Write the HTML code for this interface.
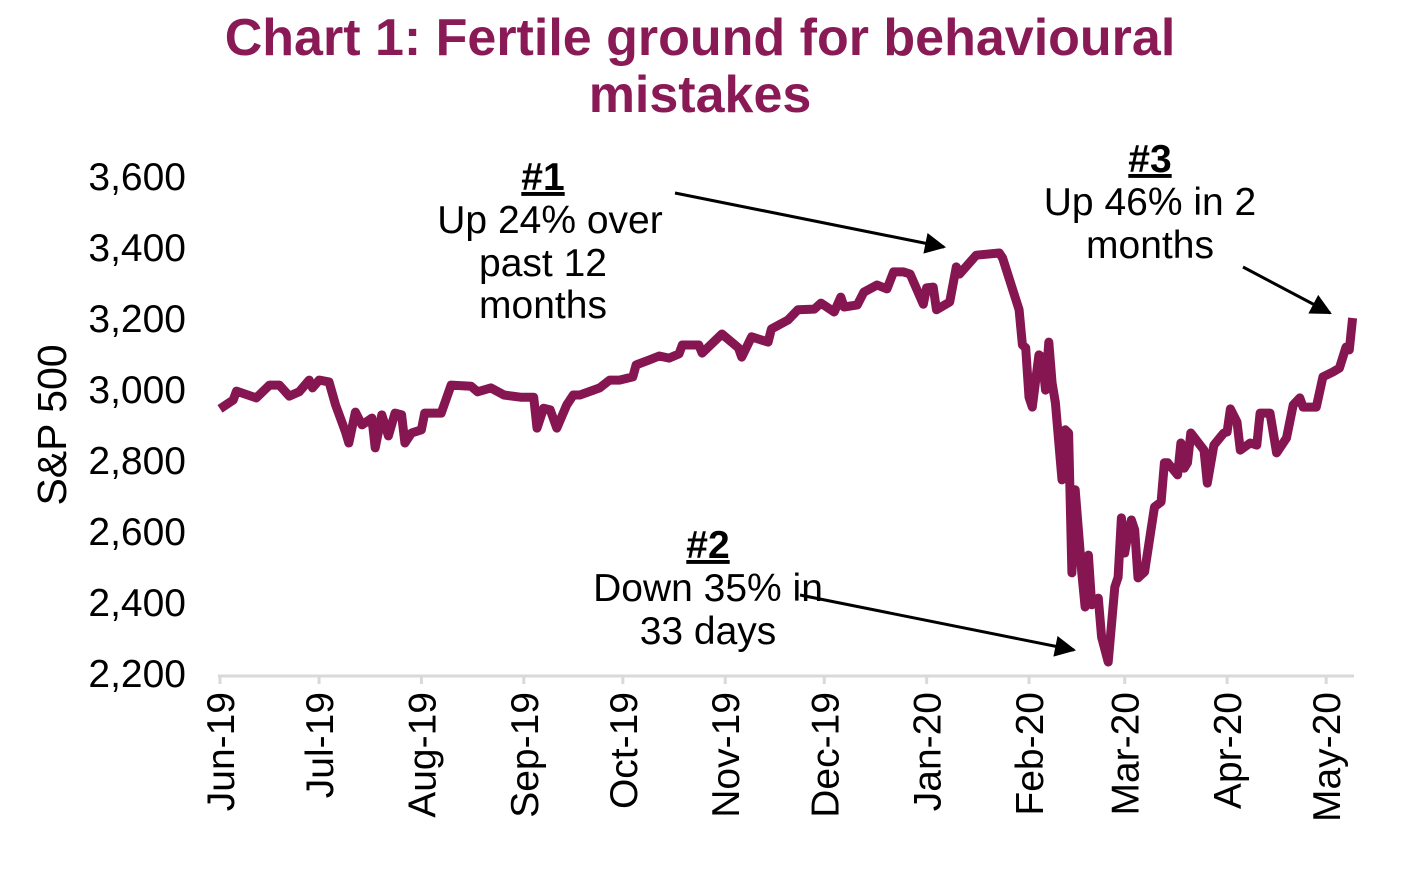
<!DOCTYPE html>
<html><head><meta charset="utf-8"><style>
body{margin:0;background:#fff;}
svg{display:block;font-family:"Liberation Sans",Arial,sans-serif;}
</style></head><body>
<svg id="chart" width="1414" height="880" viewBox="0 0 1414 880">
<defs><marker id="ah" viewBox="0 0 10 10" refX="9" refY="5" markerWidth="9" markerHeight="7" orient="auto" markerUnits="strokeWidth"><path d="M0,0 L10,5 L0,10 z" fill="#000"/></marker></defs>
<text x="700" y="55" text-anchor="middle" font-size="52" font-weight="bold" fill="#8a1a56">Chart 1: Fertile ground for behavioural</text>
<text x="700" y="112" text-anchor="middle" font-size="52" font-weight="bold" fill="#8a1a56">mistakes</text>
<text transform="translate(66,425) rotate(-90)" text-anchor="middle" font-size="41" fill="#000">S&amp;P 500</text>
<g id="yaxis"></g><g id="xaxis"></g>
<path id="line" fill="none" stroke="#861652" stroke-width="9" stroke-linejoin="round"/>
<g font-size="39" text-anchor="middle" fill="#000">
<text x="543" y="190" font-weight="bold" text-decoration="underline">#1</text>
<text x="550" y="233">Up 24% over</text><text x="543" y="276">past 12</text><text x="543" y="318">months</text>
<line x1="675" y1="193" x2="944" y2="247" stroke="#000" stroke-width="3" marker-end="url(#ah)"/></g>
<g font-size="39" text-anchor="middle" fill="#000">
<text x="708" y="558" font-weight="bold" text-decoration="underline">#2</text>
<text x="708" y="601">Down 35% in</text><text x="708" y="644">33 days</text>
<line x1="800" y1="595" x2="1074" y2="650" stroke="#000" stroke-width="3" marker-end="url(#ah)"/></g>
<g font-size="39" text-anchor="middle" fill="#000">
<text x="1150" y="172" font-weight="bold" text-decoration="underline">#3</text>
<text x="1150" y="215">Up 46% in 2</text><text x="1150" y="258">months</text>
<line x1="1243" y1="267" x2="1330" y2="313" stroke="#000" stroke-width="3" marker-end="url(#ah)"/></g>
</svg>
<script>
const days=[0,4,5,11,15,18,21,24,27,28,30,33,35,38,39,41,43,46,47,49,51,53,55,56,58,61,62,67,70,76,78,82,86,91,95,96,98,100,102,105,107,109,115,118,121,125,126,130,133,136,139,140,145,146,152,157,158,161,166,167,172,175,180,182,186,188,189,193,195,199,202,204,207,209,213,214,216,217,221,223,224,229,236,237,242,243,244,245,246,248,249,250,251,252,253,255,256,257,258,259,261,262,263,264,266,267,269,271,272,273,274,275,276,277,278,280,283,285,286,287,290,291,292,293,294,298,299,301,304,305,306,308,309,312,314,315,318,320,323,325,327,328,332,334,337,339,341,342,343];
const values=[2944,2969,2994,2975,3011,3011,2980,2992,3025,3003,3025,3020,2955,2879,2848,2935,2899,2918,2834,2927,2868,2932,2927,2848,2876,2885,2932,2932,3011,3008,2992,3003,2983,2977,2977,2890,2946,2941,2890,2955,2983,2983,3003,3025,3025,3034,3068,3082,3093,3087,3099,3124,3124,3101,3155,3116,3090,3147,3132,3169,3194,3223,3225,3242,3217,3259,3231,3237,3273,3293,3282,3330,3330,3324,3239,3285,3287,3223,3245,3344,3324,3377,3383,3369,3223,3124,3116,2977,2949,3096,3090,2997,3132,3017,2961,2744,2885,2876,2482,2716,2482,2386,2532,2392,2411,2301,2231,2442,2470,2637,2538,2594,2631,2603,2468,2485,2668,2682,2792,2792,2758,2848,2777,2792,2876,2828,2735,2842,2876,2879,2944,2907,2828,2848,2842,2932,2932,2820,2862,2955,2975,2949,2949,3034,3048,3059,3118,3110,3200];
const yTicks=[2200,2400,2600,2800,3000,3200,3400,3600];
const monthLabels=["Jun-19","Jul-19","Aug-19","Sep-19","Oct-19","Nov-19","Dec-19","Jan-20","Feb-20","Mar-20","Apr-20","May-20"];
const monthDays=[0,30,61,92,122,153,183,214,245,274,305,335];
const xS=d=>220+d*3.302, yS=v=>673-(v-2200)*(497/1400);
const NS="http://www.w3.org/2000/svg";
const ya=document.getElementById('yaxis'), xa=document.getElementById('xaxis');
yTicks.forEach(v=>{const t=document.createElementNS(NS,'text');


t.setAttribute('x',186);t.setAttribute('y',yS(v)+14);t.setAttribute('text-anchor','end');t.setAttribute('font-size','39');
t.textContent=v.toLocaleString('en-US');ya.appendChild(t);});
const ax=document.createElementNS(NS,'line');


ax.setAttribute('x1',218);ax.setAttribute('x2',1354);ax.setAttribute('y1',676);ax.setAttribute('y2',676);ax.setAttribute('stroke','#d9d9d9');ax.setAttribute('stroke-width','3');xa.appendChild(ax);
monthDays.forEach((d,i)=>{const x=xS(d);
const tk=document.createElementNS(NS,'line');


tk.setAttribute('x1',x);tk.setAttribute('x2',x);tk.setAttribute('y1',676);tk.setAttribute('y2',684);tk.setAttribute('stroke','#d9d9d9');tk.setAttribute('stroke-width','3');xa.appendChild(tk);
const t=document.createElementNS(NS,'text');


t.setAttribute('transform','translate('+(x+14)+',692) rotate(-90)');t.setAttribute('text-anchor','end');t.setAttribute('font-size','39');
t.textContent=monthLabels[i];xa.appendChild(t);});
document.getElementById('line').setAttribute('d',days.map((d,i)=>(i?'L':'M')+xS(d).toFixed(1)+','+yS(values[i]).toFixed(1)).join(' '));
</script>
</body></html>
